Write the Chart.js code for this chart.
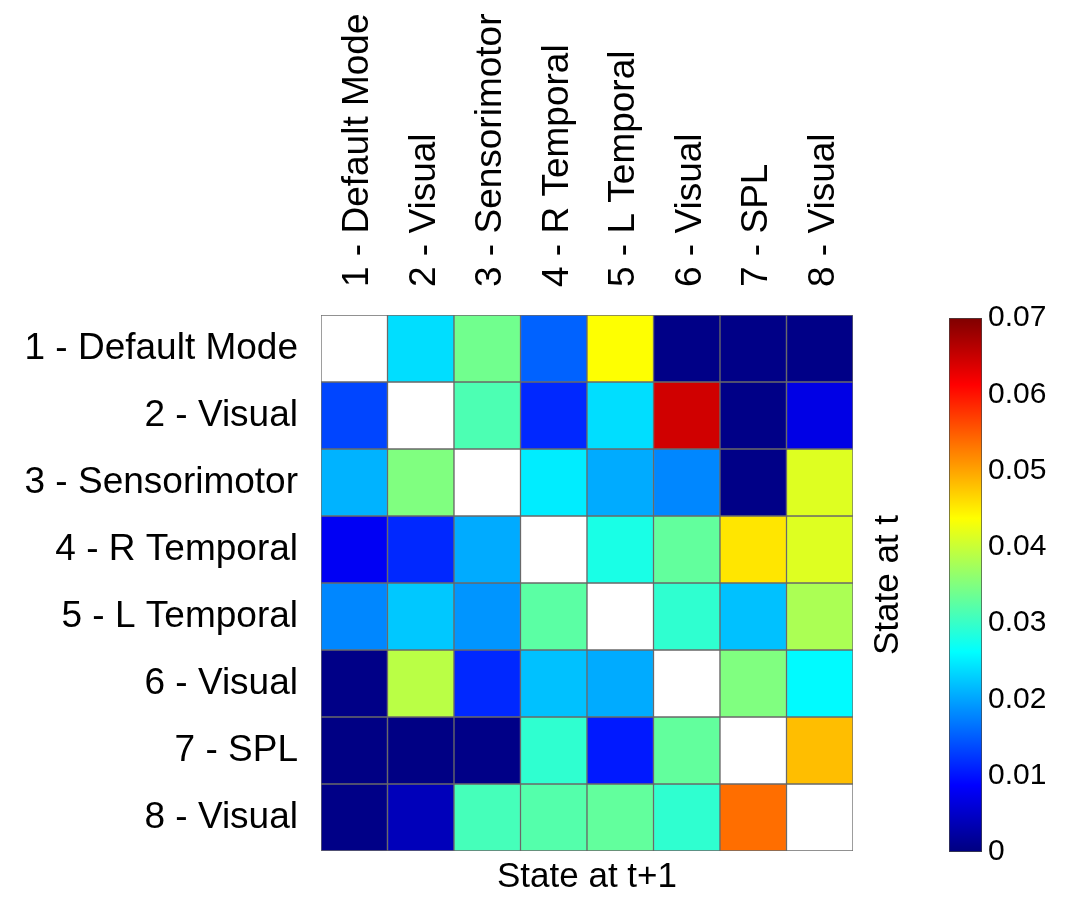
<!DOCTYPE html>
<html>
<head>
<meta charset="utf-8">
<script src="https://cdn.jsdelivr.net/npm/chart.js@4"></script>
<style>
  html, body { margin: 0; padding: 0; background: #fff; }
  #wrap { position: relative; width: 1069px; height: 898px; }
  #heat { position: absolute; left: 0; top: 0; }
  #cbar { position: absolute; left: 867px; top: 0; }
</style>
</head>
<body>
<div id="wrap">
  <canvas id="heat" width="1069" height="898"></canvas>
  <canvas id="cbar" width="202" height="898"></canvas>
</div>
<script>
const STATES = [
  '1 - Default Mode', '2 - Visual', '3 - Sensorimotor', '4 - R Temporal',
  '5 - L Temporal', '6 - Visual', '7 - SPL', '8 - Visual',
];

// rows = state at t, columns = state at t+1 (diagonal left blank)
const TRANSITIONS = [
  [null, 0.024, 0.034, 0.0155, 0.0437, 0.0005, 0.0005, 0.0005],
  [0.0135, null, 0.0315, 0.0115, 0.024, 0.0645, 0.0005, 0.007],
  [0.021, 0.035, null, 0.025, 0.0205, 0.018, 0.0005, 0.0415],
  [0.008, 0.0115, 0.0205, null, 0.028, 0.033, 0.0455, 0.0415],
  [0.018, 0.0225, 0.019, 0.0325, null, 0.0295, 0.022, 0.038],
  [0.0005, 0.039, 0.0115, 0.022, 0.0205, null, 0.035, 0.026],
  [0.0003, 0.0003, 0.0005, 0.0295, 0.0105, 0.033, null, 0.0482],
  [0.0005, 0.004, 0.031, 0.032, 0.033, 0.0295, 0.0537, null],
];

const CBAR_MIN = 0;
const CBAR_MAX = 0.07;
const CBAR_TICKS = [0, 0.01, 0.02, 0.03, 0.04, 0.05, 0.06, 0.07];

const FONT = '"Liberation Sans", Arial, Helvetica, sans-serif';
Chart.defaults.font.family = FONT;
Chart.defaults.color = '#000';

function jet(v) {
  const t = Math.max(0, Math.min(1, (v - CBAR_MIN) / (CBAR_MAX - CBAR_MIN)));
  const c = (x) => Math.round(255 * Math.max(0, Math.min(1, x)));
  const r = c(Math.min(4 * t - 1.5, -4 * t + 4.5));
  const g = c(Math.min(4 * t - 0.5, -4 * t + 3.5));
  const b = c(Math.min(4 * t + 0.5, -4 * t + 2.5));
  return `rgb(${r}, ${g}, ${b})`;
}

const noGrid = { display: false, drawTicks: false };

new Chart(document.getElementById('heat'), {
  type: 'bar',
  data: {
    labels: STATES,
    datasets: TRANSITIONS.map((row, r) => ({
      label: STATES[r],
      data: row.map(() => [r, r + 1]),
      backgroundColor: row.map((v) => (v === null ? '#ffffff' : jet(v))),
      borderColor: 'rgba(60, 60, 60, 0.75)',
      borderWidth: 1,
      borderSkipped: false,
      grouped: false,
      barPercentage: 1,
      categoryPercentage: 1,
    })),
  },
  options: {
    responsive: false,
    animation: false,
    devicePixelRatio: 1,
    layout: { padding: { top: 0, left: 0, right: 216, bottom: 0 } },
    plugins: { legend: { display: false }, tooltip: { enabled: false } },
    scales: {
      x: {
        position: 'top',
        grid: noGrid,
        border: { display: false },
        ticks: {
          font: { size: 37 }, minRotation: 90, maxRotation: 90,
          padding: 28, labelOffset: 48, autoSkip: false,
        },
        afterFit: (s) => { s.height = 315; },
      },
      xb: {
        type: 'category',
        position: 'bottom',
        labels: STATES,
        grid: noGrid,
        border: { display: false },
        ticks: { display: false },
        title: { display: true, text: 'State at t+1', font: { size: 35 }, padding: 0 },
        afterFit: (s) => { s.height = 47; },
      },
      y: {
        min: 0,
        max: STATES.length,
        reverse: true,
        grid: noGrid,
        border: { display: false },
        afterBuildTicks: (s) => { s.ticks = STATES.map((_, i) => ({ value: i + 0.5 })); },
        ticks: { font: { size: 37 }, padding: 23, autoSkip: false, callback: (v) => STATES[Math.floor(v)] },
        afterFit: (s) => { s.width = 321; },
      },
    },
  },
});

function jetGradient(ctx) {
  const chart = ctx.chart;
  if (!chart.chartArea) return '#000080';
  const y = chart.scales.y;
  const g = chart.ctx.createLinearGradient(0, y.getPixelForValue(CBAR_MIN), 0, y.getPixelForValue(CBAR_MAX));
  for (let i = 0; i <= 64; i++) {
    g.addColorStop(i / 64, jet(CBAR_MIN + (CBAR_MAX - CBAR_MIN) * i / 64));
  }
  return g;
}

new Chart(document.getElementById('cbar'), {
  type: 'bar',
  data: {
    labels: [''],
    datasets: [{
      data: [[CBAR_MIN, CBAR_MAX]],
      backgroundColor: jetGradient,
      borderColor: '#444',
      borderWidth: 1,
      borderSkipped: false,
      barPercentage: 1,
      categoryPercentage: 1,
    }],
  },
  options: {
    responsive: false,
    animation: false,
    devicePixelRatio: 1,
    layout: { padding: { top: 318, bottom: 46, left: 0, right: 0 } },
    plugins: { legend: { display: false }, tooltip: { enabled: false } },
    scales: {
      x: { display: false },
      y: {
        position: 'right',
        min: CBAR_MIN,
        max: CBAR_MAX,
        grid: noGrid,
        border: { display: false },
        afterBuildTicks: (s) => { s.ticks = CBAR_TICKS.map((v) => ({ value: v })); },
        ticks: { font: { size: 30 }, padding: 6, callback: (v) => (v === 0 ? '0' : v.toFixed(2)) },
        afterFit: (s) => { s.width = 87; },
      },
      yl: {
        position: 'left',
        min: CBAR_MIN,
        max: CBAR_MAX,
        grid: noGrid,
        border: { display: false },
        ticks: { display: false },
        title: { display: true, text: 'State at t', font: { size: 35 }, padding: 0 },
        afterFit: (s) => { s.width = 82; },
      },
    },
  },
});
</script>
</body>
</html>
